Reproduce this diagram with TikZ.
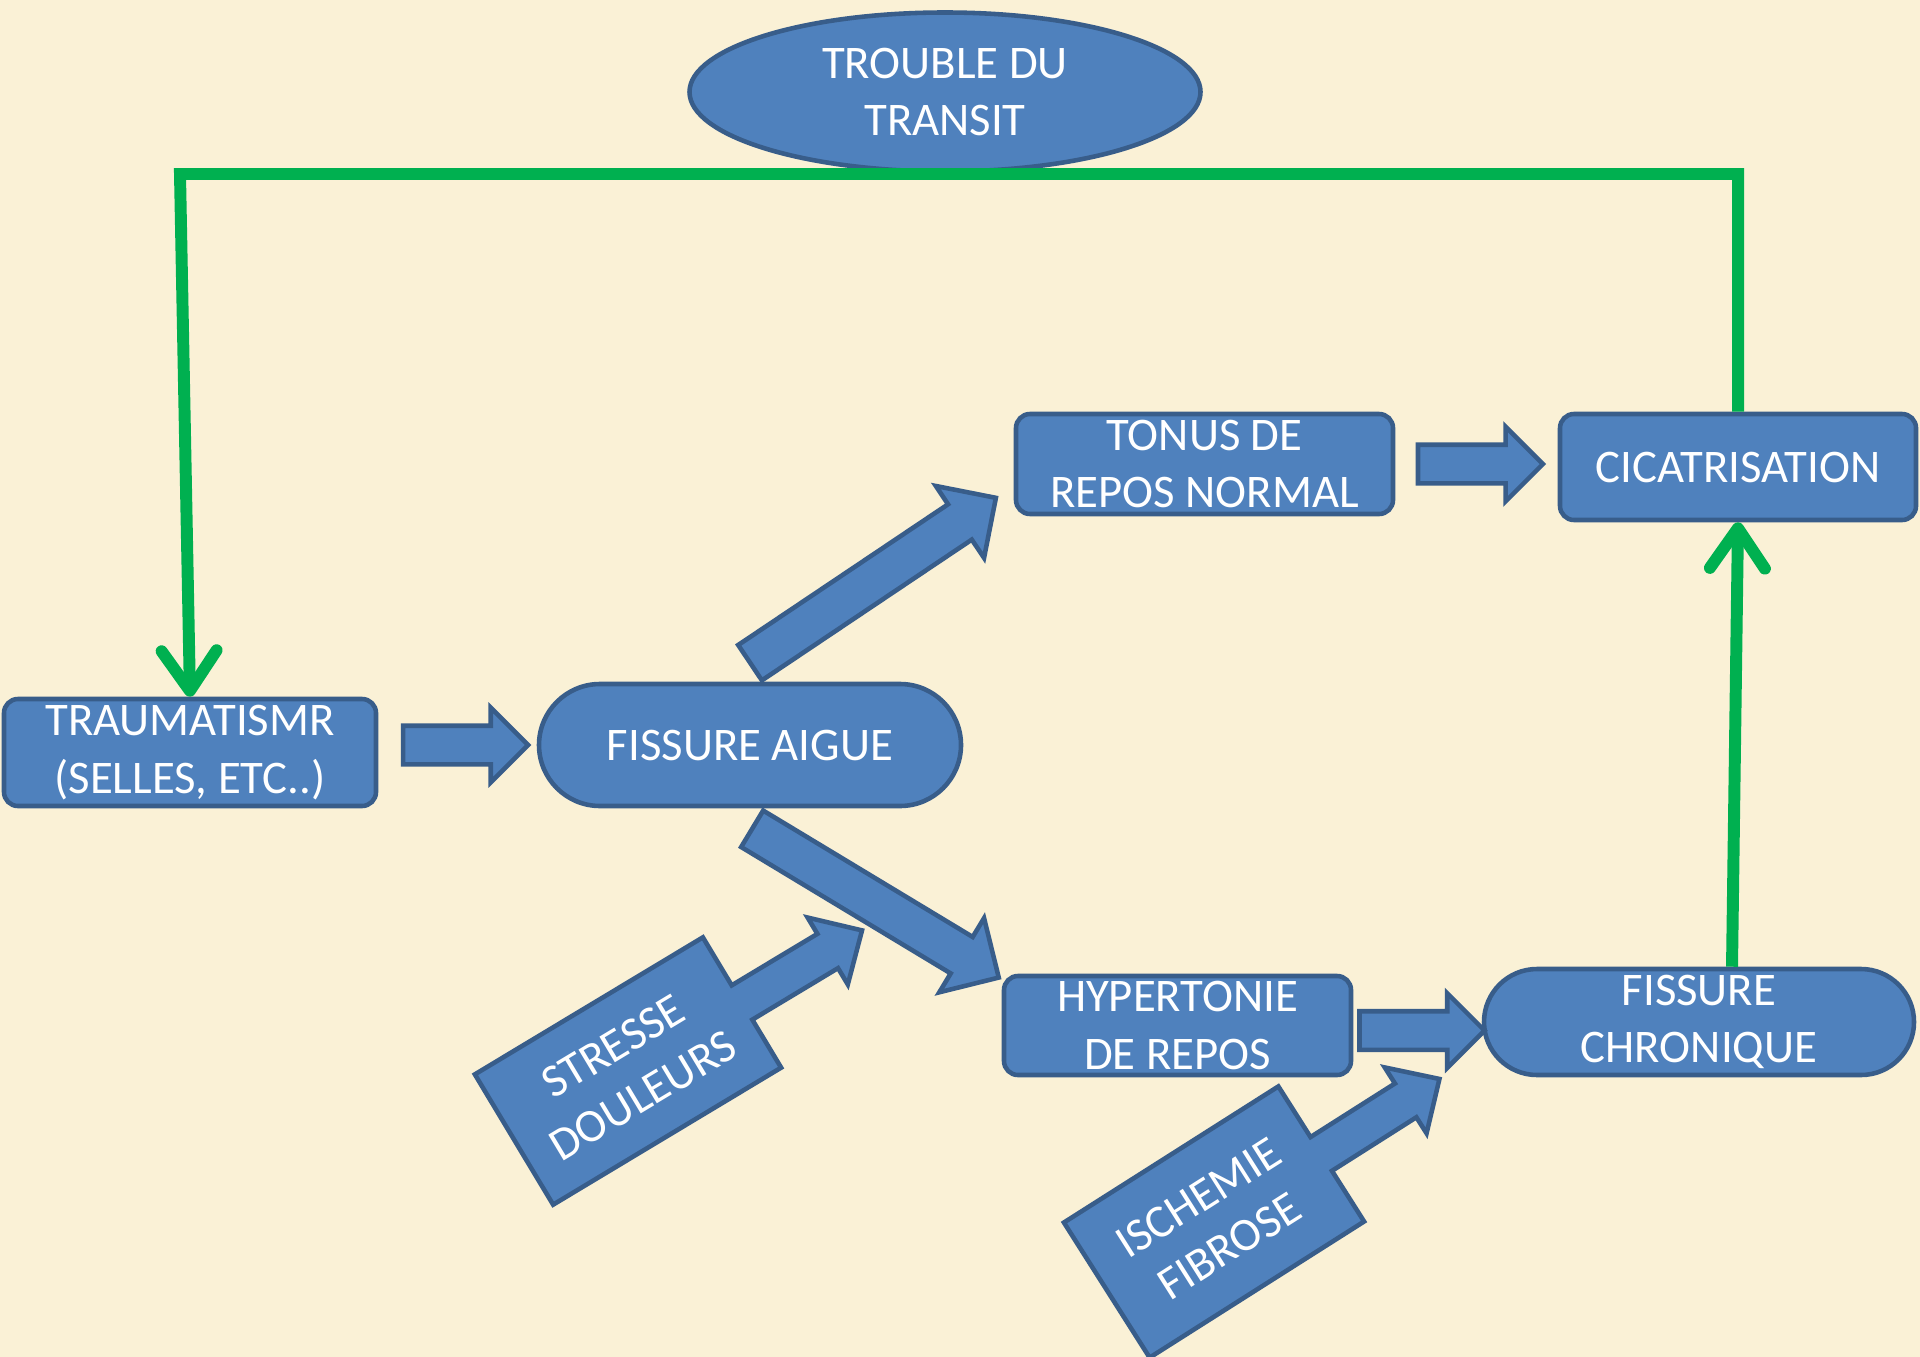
\documentclass[tikz,border=0pt]{standalone}
\usepackage{fontspec}
\setmainfont{Carlito}
\usetikzlibrary{positioning,arrows.meta,calc,shapes.geometric,shapes.misc,shapes.arrows}

\definecolor{paper}{RGB}{250,241,214}
\definecolor{boxblue}{RGB}{79,129,189}
\definecolor{edgeblue}{RGB}{56,93,138}
\definecolor{loopgreen}{RGB}{0,176,80}

\begin{document}
\begin{tikzpicture}[
  box/.style={rectangle,rounded corners=0.14cm,fill=boxblue,draw=edgeblue,line width=1.3pt,
    text=white,align=center,inner sep=0pt,font=\fontsize{13.3}{16.3}\selectfont},
  pill/.style={box,sharp corners,rounded rectangle},
  oval/.style={box,sharp corners,ellipse},
  barrow/.style={single arrow,fill=boxblue,draw=edgeblue,line width=1.3pt,inner xsep=0pt,
    inner ysep=0.17cm,single arrow head extend=0.18cm,single arrow tip angle=90,minimum height=1.25cm},
  darrow/.style={barrow,sloped,inner ysep=0.19cm,single arrow head extend=0.22cm},
  callout/.style={fill=boxblue,draw=edgeblue,line width=1.3pt,line join=miter},
  calltext/.style={text=white,align=center,inner sep=0pt,font=\fontsize{13.3}{16.3}\selectfont},
  greenline/.style={draw=loopgreen,line width=3.4pt},
  gtip/.style={-{Straight Barb[length=4mm,width=5.5mm,round]}}
]
\useasboundingbox (0,0) rectangle (19.2,-13.57);
\fill[paper] (0,0) rectangle (19.2,-13.57);

% Boxes
\node[oval,minimum width=5.11cm,minimum height=1.59cm] (transit) at (9.45,-0.92) {TROUBLE DU\\TRANSIT};
\node[box,minimum width=3.72cm,minimum height=1.07cm] (trauma) at (1.90,-7.525) {TRAUMATISMR\\(SELLES, ETC..)};
\node[pill,minimum width=4.22cm,minimum height=1.22cm] (aigue) at (7.50,-7.45) {FISSURE AIGUE};
\node[box,minimum width=3.77cm,minimum height=1.00cm] (tonus) at (12.045,-4.64) {TONUS DE\\REPOS NORMAL};
\node[box,minimum width=3.56cm,minimum height=1.06cm] (cicat) at (17.38,-4.67) {CICATRISATION};
\node[box,minimum width=3.47cm,minimum height=0.99cm] (hyper) at (11.775,-10.255) {HYPERTONIE\\DE REPOS};
\node[pill,minimum width=4.30cm,minimum height=1.06cm] (chron) at (16.99,-10.22) {FISSURE\\CHRONIQUE};

% Block arrows
\path (trauma.east |- aigue.west) -- node[barrow,pos=.49] {} (aigue.west);
\path (tonus.east) -- node[barrow,pos=.465] {} (tonus.east -| cicat.west);
\path ([yshift=-0.5mm]hyper.east) -- node[barrow,pos=.46] {} ([yshift=-0.5mm]hyper.east -| chron.west);
\path ([shift={(0.015,0.20)}]aigue.north) -- node[darrow,pos=.465,minimum height=2.96cm] {} ([shift={(-0.20,0.17)}]tonus.south west);
\path ([shift={(0.03,-0.21)}]aigue.south) -- node[darrow,pos=.467,minimum height=2.88cm] {} ([shift={(-0.06,-0.02)}]hyper.north west);

% Callouts
\foreach \nm/\cx/\cy/\ang/\hl/\hw/\txt in {stress/6.28/-10.71/31/1.33/0.76/{STRESSE\\DOULEURS},
    isch/12.14/-12.22/32.4/1.27/0.80/{ISCHEMIE\\FIBROSE}}{
  \begin{scope}[shift={(\cx,\cy)},rotate=\ang]
    \draw[callout] (-\hl,-\hw) -- (\hl,-\hw) -- (\hl,-0.2) -- ++(1.0,0) -- ++(0,-0.19)
      -- ++(0.4,0.39) -- ++(-0.4,0.39) -- ++(0,-0.19) -- (\hl,0.2) -- (\hl,\hw) -- (-\hl,\hw) -- cycle;
    \node[calltext,rotate=\ang] (\nm) at (0,0) {\txt};
  \end{scope}
}

% Green loop
\coordinate (tl) at (1.80,-1.74);
\draw[greenline,gtip] (cicat.north) -- (cicat.north |- tl) -- (tl) -- (trauma.north);
\draw[greenline,gtip] ([xshift=3.3mm]chron.north) -- (cicat.south);
\end{tikzpicture}
\end{document}
